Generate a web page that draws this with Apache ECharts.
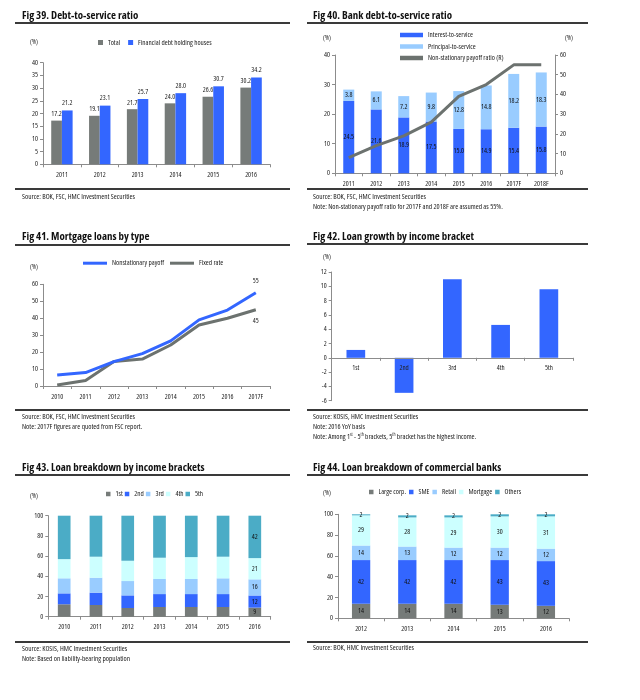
<!DOCTYPE html>
<html>
<head>
<meta charset="utf-8">
<script src="https://cdn.jsdelivr.net/npm/echarts@6/dist/echarts.min.js"></script>
<style>
  html,body{margin:0;padding:0;background:#fff;}
  #wrap{position:relative;width:640px;height:700px;overflow:hidden;}
  #chart{position:absolute;left:0;top:0;width:640px;height:700px;}
  .t{position:absolute;font-family:"Open Sans",sans-serif;font-stretch:condensed;font-weight:bold;font-size:10.9px;color:#111;white-space:nowrap;line-height:12px;}
  .s{position:absolute;font-family:"Open Sans",sans-serif;font-stretch:condensed;font-size:7.3px;color:#222;white-space:nowrap;line-height:9px;}
  .s sup{font-size:4.5px;line-height:0;vertical-align:3px;}
  .r{position:absolute;height:2px;background:#3a3a3a;}
</style>
</head>
<body>
<div id="wrap">
  <div id="chart"></div>
  <div class="t" style="left:22px;top:9px;">Fig 39. Debt-to-service ratio</div>
  <div class="t" style="left:313px;top:9px;">Fig 40. Bank debt-to-service ratio</div>
  <div class="t" style="left:22px;top:230px;">Fig 41. Mortgage loans by type</div>
  <div class="t" style="left:313px;top:230px;">Fig 42. Loan growth by income bracket</div>
  <div class="t" style="left:22px;top:461px;">Fig 43. Loan breakdown by income brackets</div>
  <div class="t" style="left:313px;top:461px;">Fig 44. Loan breakdown of commercial banks</div>

  <div class="r" style="left:15px;top:22px;width:275px;"></div>
  <div class="r" style="left:307px;top:22px;width:281px;"></div>
  <div class="r" style="left:15px;top:188px;width:275px;"></div>
  <div class="r" style="left:307px;top:188px;width:281px;"></div>
  <div class="r" style="left:15px;top:244px;width:275px;"></div>
  <div class="r" style="left:307px;top:243px;width:281px;"></div>
  <div class="r" style="left:15px;top:409px;width:275px;"></div>
  <div class="r" style="left:307px;top:409px;width:281px;"></div>
  <div class="r" style="left:15px;top:474px;width:275px;"></div>
  <div class="r" style="left:307px;top:474px;width:281px;"></div>
  <div class="r" style="left:15px;top:641px;width:275px;"></div>
  <div class="r" style="left:307px;top:641px;width:281px;"></div>

  <div class="s" style="left:22px;top:192px;">Source: BOK, FSC, HMC Investment Securities</div>
  <div class="s" style="left:313px;top:192px;">Source: BOK, FSC, HMC Investment Securities</div>
  <div class="s" style="left:313px;top:202px;">Note: Non-stationary payoff ratio for 2017F and 2018F are assumed as 55%.</div>
  <div class="s" style="left:22px;top:412px;">Source: BOK, FSC, HMC Investment Securities</div>
  <div class="s" style="left:22px;top:422px;">Note: 2017F figures are quoted from FSC report.</div>
  <div class="s" style="left:313px;top:412px;">Source: KOSIS, HMC Investment Securities</div>
  <div class="s" style="left:313px;top:422px;">Note: 2016 YoY basis</div>
  <div class="s" style="left:313px;top:432px;">Note: Among 1<sup>st</sup> - 5<sup>th</sup> brackets, 5<sup>th</sup> bracket has the highest income.</div>
  <div class="s" style="left:22px;top:644px;">Source: KOSIS, HMC Investment Securities</div>
  <div class="s" style="left:22px;top:654px;">Note: Based on liability-bearing population</div>
  <div class="s" style="left:313px;top:643px;">Source: BOK, HMC Investment Securities</div>
</div>
<script>
// ---------- data ----------
const years39 = ['2011','2012','2013','2014','2015','2016'];
const total39 = [17.2, 19.1, 21.7, 24.0, 26.6, 30.2];
const finHouses39 = [21.2, 23.1, 25.7, 28.0, 30.7, 34.2];

const years40 = ['2011','2012','2013','2014','2015','2016','2017F','2018F'];
const interest40 = [24.5, 21.6, 18.9, 17.5, 15.0, 14.9, 15.4, 15.8];
const principal40 = [3.8, 6.1, 7.2, 9.8, 12.8, 14.8, 18.2, 18.3];
const payoff40 = [8, 14, 19, 26, 39, 45, 55, 55];

const years41 = ['2010','2011','2012','2013','2014','2015','2016','2017F'];
const nonstat41 = [6.5, 7.9, 14.4, 19.1, 26.6, 39, 44.8, 55];
const fixed41 = [0.6, 3.3, 14.4, 15.9, 24.2, 36, 40, 45];

const brackets42 = ['1st','2nd','3rd','4th','5th'];
const growth42 = [1.1, -4.9, 11.0, 4.6, 9.6];

const years43 = ['2010','2011','2012','2013','2014','2015','2016'];
const q1_43 = [12.3, 11.6, 8.6, 9.6, 9.6, 9.6, 9];
const q2_43 = [10.8, 12.2, 12.5, 12.8, 12.8, 12.8, 12];
const q3_43 = [14.9, 14.8, 14.2, 14.9, 14.9, 15.6, 16];
const q4_43 = [19.0, 20.8, 20.1, 21.1, 21.7, 21.4, 21];
const q5_43 = [43.0, 40.6, 44.6, 41.6, 41.0, 40.6, 42];

const years44 = ['2012','2013','2014','2015','2016'];
const large44 = [14, 14, 14, 13, 12];
const sme44 = [42, 42, 42, 43, 43];
const retail44 = [14, 13, 12, 12, 12];
const mortgage44 = [29, 28, 29, 30, 31];
const others44 = [2, 2, 2, 2, 2];

// ---------- style ----------
const FF = '"Open Sans", sans-serif';
const FW = 'condensed';   // font-stretch keyword in the canvas font shorthand
const GRAY = '#767b79', BLUE = '#3366ff', LBLUE = '#99ccff', PALE = '#ccffff', TEAL = '#4bacc6', LINEGRAY = '#6c726f';
const AX = '#8c8c8c', TXT = '#222';
const TS = { fontFamily: FF, fontWeight: FW, fontSize: 7, color: TXT };

function catAxis(gi, data, extra) {
  return Object.assign({
    type: 'category', gridIndex: gi, data: data,
    axisLine: { lineStyle: { color: AX, width: 1 } },
    axisTick: { show: true, length: 3, lineStyle: { color: AX } },
    axisLabel: Object.assign({ margin: 7 }, TS),
    splitLine: { show: false }
  }, extra || {});
}
function valAxis(gi, min, max, interval, extra) {
  return Object.assign({
    type: 'value', gridIndex: gi, min: min, max: max, interval: interval,
    axisLine: { show: true, lineStyle: { color: AX, width: 1 } },
    axisTick: { show: true, length: 3, lineStyle: { color: AX } },
    axisLabel: Object.assign({ margin: 5 }, TS),
    splitLine: { show: false }
  }, extra || {});
}

function pctText(x, y) {
  return { type: 'text', left: x, top: y,
    style: { text: '(%)', fontFamily: FF, fontWeight: FW, fontSize: 6.5, fill: TXT } };
}

const lastIdx43 = years43.length - 1;
const lblLast43 = Object.assign({ show: true, position: 'inside',
  formatter: p => p.dataIndex === lastIdx43 ? Math.round(p.value) : '' }, TS, { color: '#111' });
const lblInside = Object.assign({ show: true, position: 'inside' }, TS, { color: '#111' });
const legendText = { fontFamily: FF, fontWeight: FW, fontSize: 7.2, color: TXT };

const chart = echarts.init(document.getElementById('chart'), null, { renderer: 'canvas' });

const option = {
  animation: false,
  backgroundColor: 'transparent',
  grid: [
    { left: 43, top: 62.7, width: 227, height: 101.6 },
    { left: 335, top: 55, width: 220, height: 118.3 },
    { left: 43, top: 284.3, width: 227, height: 101.7 },
    { left: 331.7, top: 272, width: 241.3, height: 128.7 },
    { left: 48.3, top: 515.7, width: 222.4, height: 101 },
    { left: 338, top: 514.3, width: 231, height: 104 }
  ],
  legend: [
    { left: 98, top: 39, padding: 0, itemWidth: 5, itemHeight: 5, itemGap: 8, icon: 'rect', textStyle: legendText,
      data: ['Total', 'Financial debt holding houses'] },
    { left: 400, top: 31.5, padding: 0, orient: 'vertical', itemWidth: 23, itemHeight: 4.5, itemGap: 4.5, icon: 'rect', textStyle: legendText,
      data: ['Interest-to-service', 'Principal-to-service', 'Non-stationary payoff ratio (R)'] },
    { left: 83, top: 259.7, padding: 0, itemWidth: 24, itemHeight: 3, itemGap: 6, icon: 'rect', textStyle: legendText,
      data: ['Nonstationary payoff', 'Fixed rate'] },
    { left: 106, top: 490.5, padding: 0, itemWidth: 4.5, itemHeight: 4.5, itemGap: 2, icon: 'rect', textStyle: legendText,
      data: ['1st', '2nd', '3rd', '4th', '5th'] },
    { left: 369, top: 488.5, padding: 0, itemWidth: 4.5, itemHeight: 4.5, itemGap: 3, icon: 'rect', textStyle: legendText,
      data: ['Large corp.', 'SME', 'Retail', 'Mortgage', 'Others'] }
  ],
  graphic: [
    pctText(30, 39), pctText(323, 35), pctText(565, 35), pctText(30, 264),
    pctText(323, 254), pctText(30, 493), pctText(323, 490)
  ],
  xAxis: [
    catAxis(0, years39),
    catAxis(1, years40),
    catAxis(2, years41),
    catAxis(3, brackets42, { z: 10, offset: -42.9,
      axisLine: { onZero: false, lineStyle: { color: AX, width: 1 } } }),
    catAxis(4, years43),
    catAxis(5, years44)
  ],
  yAxis: [
    valAxis(0, 0, 40, 5),
    valAxis(1, 0, 40, 10),
    valAxis(1, 0, 60, 10, { position: 'right' }),
    valAxis(2, 0, 60, 10),
    valAxis(3, -6, 12, 2),
    valAxis(4, 0, 100, 20),
    valAxis(5, 0, 100, 20)
  ],
  series: [
    // Fig 39
    { name: 'Total', type: 'bar', xAxisIndex: 0, yAxisIndex: 0, data: total39, barWidth: 10.7, barGap: '0%',
      itemStyle: { color: GRAY },
      label: Object.assign({ show: true, position: 'top', distance: 3, formatter: p => p.value.toFixed(1) }, TS) },
    { name: 'Financial debt holding houses', type: 'bar', xAxisIndex: 0, yAxisIndex: 0, data: finHouses39, barWidth: 10.7, barGap: '0%',
      itemStyle: { color: BLUE },
      label: Object.assign({ show: true, position: 'top', distance: 4, formatter: p => p.value.toFixed(1) }, TS) },
    // Fig 40
    { name: 'Interest-to-service', type: 'bar', stack: 's40', xAxisIndex: 1, yAxisIndex: 1, data: interest40, barWidth: 11,
      itemStyle: { color: BLUE },
      label: Object.assign({}, lblInside, { formatter: p => p.value.toFixed(1) }) },
    { name: 'Principal-to-service', type: 'bar', stack: 's40', xAxisIndex: 1, yAxisIndex: 1, data: principal40, barWidth: 11,
      itemStyle: { color: LBLUE },
      label: Object.assign({}, lblInside, { formatter: p => p.value.toFixed(1) }) },
    { name: 'Non-stationary payoff ratio (R)', type: 'line', xAxisIndex: 1, yAxisIndex: 2, data: payoff40,
      symbol: 'none', lineStyle: { color: LINEGRAY, width: 3 }, itemStyle: { color: LINEGRAY }, z: 5 },
    // Fig 41
    { name: 'Nonstationary payoff', type: 'line', xAxisIndex: 2, yAxisIndex: 3,
      data: nonstat41.map((v, i) => i === nonstat41.length - 1
        ? { value: v, label: Object.assign({ show: true, position: 'top', distance: 8 }, TS) }
        : v),
      symbol: 'circle', symbolSize: 0.1, lineStyle: { color: BLUE, width: 3 }, itemStyle: { color: BLUE }, z: 4 },
    { name: 'Fixed rate', type: 'line', xAxisIndex: 2, yAxisIndex: 3,
      data: fixed41.map((v, i) => i === fixed41.length - 1
        ? { value: v, label: Object.assign({ show: true, position: 'bottom', distance: 8 }, TS) }
        : v),
      symbol: 'circle', symbolSize: 0.1, lineStyle: { color: LINEGRAY, width: 3 }, itemStyle: { color: LINEGRAY }, z: 3 },
    // Fig 42
    { name: 'Loan growth', type: 'bar', xAxisIndex: 3, yAxisIndex: 4, data: growth42, barWidth: 18.7,
      itemStyle: { color: BLUE } },
    // Fig 43
    { name: '1st', type: 'bar', stack: 's43', xAxisIndex: 4, yAxisIndex: 5, data: q1_43, barWidth: 12.7, itemStyle: { color: GRAY }, label: lblLast43 },
    { name: '2nd', type: 'bar', stack: 's43', xAxisIndex: 4, yAxisIndex: 5, data: q2_43, barWidth: 12.7, itemStyle: { color: BLUE }, label: lblLast43 },
    { name: '3rd', type: 'bar', stack: 's43', xAxisIndex: 4, yAxisIndex: 5, data: q3_43, barWidth: 12.7, itemStyle: { color: LBLUE }, label: lblLast43 },
    { name: '4th', type: 'bar', stack: 's43', xAxisIndex: 4, yAxisIndex: 5, data: q4_43, barWidth: 12.7, itemStyle: { color: PALE }, label: lblLast43 },
    { name: '5th', type: 'bar', stack: 's43', xAxisIndex: 4, yAxisIndex: 5, data: q5_43, barWidth: 12.7, itemStyle: { color: TEAL }, label: lblLast43 },
    // Fig 44
    { name: 'Large corp.', type: 'bar', stack: 's44', xAxisIndex: 5, yAxisIndex: 6, data: large44, barWidth: 18.3, itemStyle: { color: GRAY }, label: lblInside },
    { name: 'SME', type: 'bar', stack: 's44', xAxisIndex: 5, yAxisIndex: 6, data: sme44, barWidth: 18.3, itemStyle: { color: BLUE }, label: lblInside },
    { name: 'Retail', type: 'bar', stack: 's44', xAxisIndex: 5, yAxisIndex: 6, data: retail44, barWidth: 18.3, itemStyle: { color: LBLUE }, label: lblInside },
    { name: 'Mortgage', type: 'bar', stack: 's44', xAxisIndex: 5, yAxisIndex: 6, data: mortgage44, barWidth: 18.3, itemStyle: { color: PALE }, label: lblInside },
    { name: 'Others', type: 'bar', stack: 's44', xAxisIndex: 5, yAxisIndex: 6, data: others44, barWidth: 18.3, itemStyle: { color: TEAL }, label: lblInside }
  ]
};
chart.setOption(option);
</script>
</body>
</html>
